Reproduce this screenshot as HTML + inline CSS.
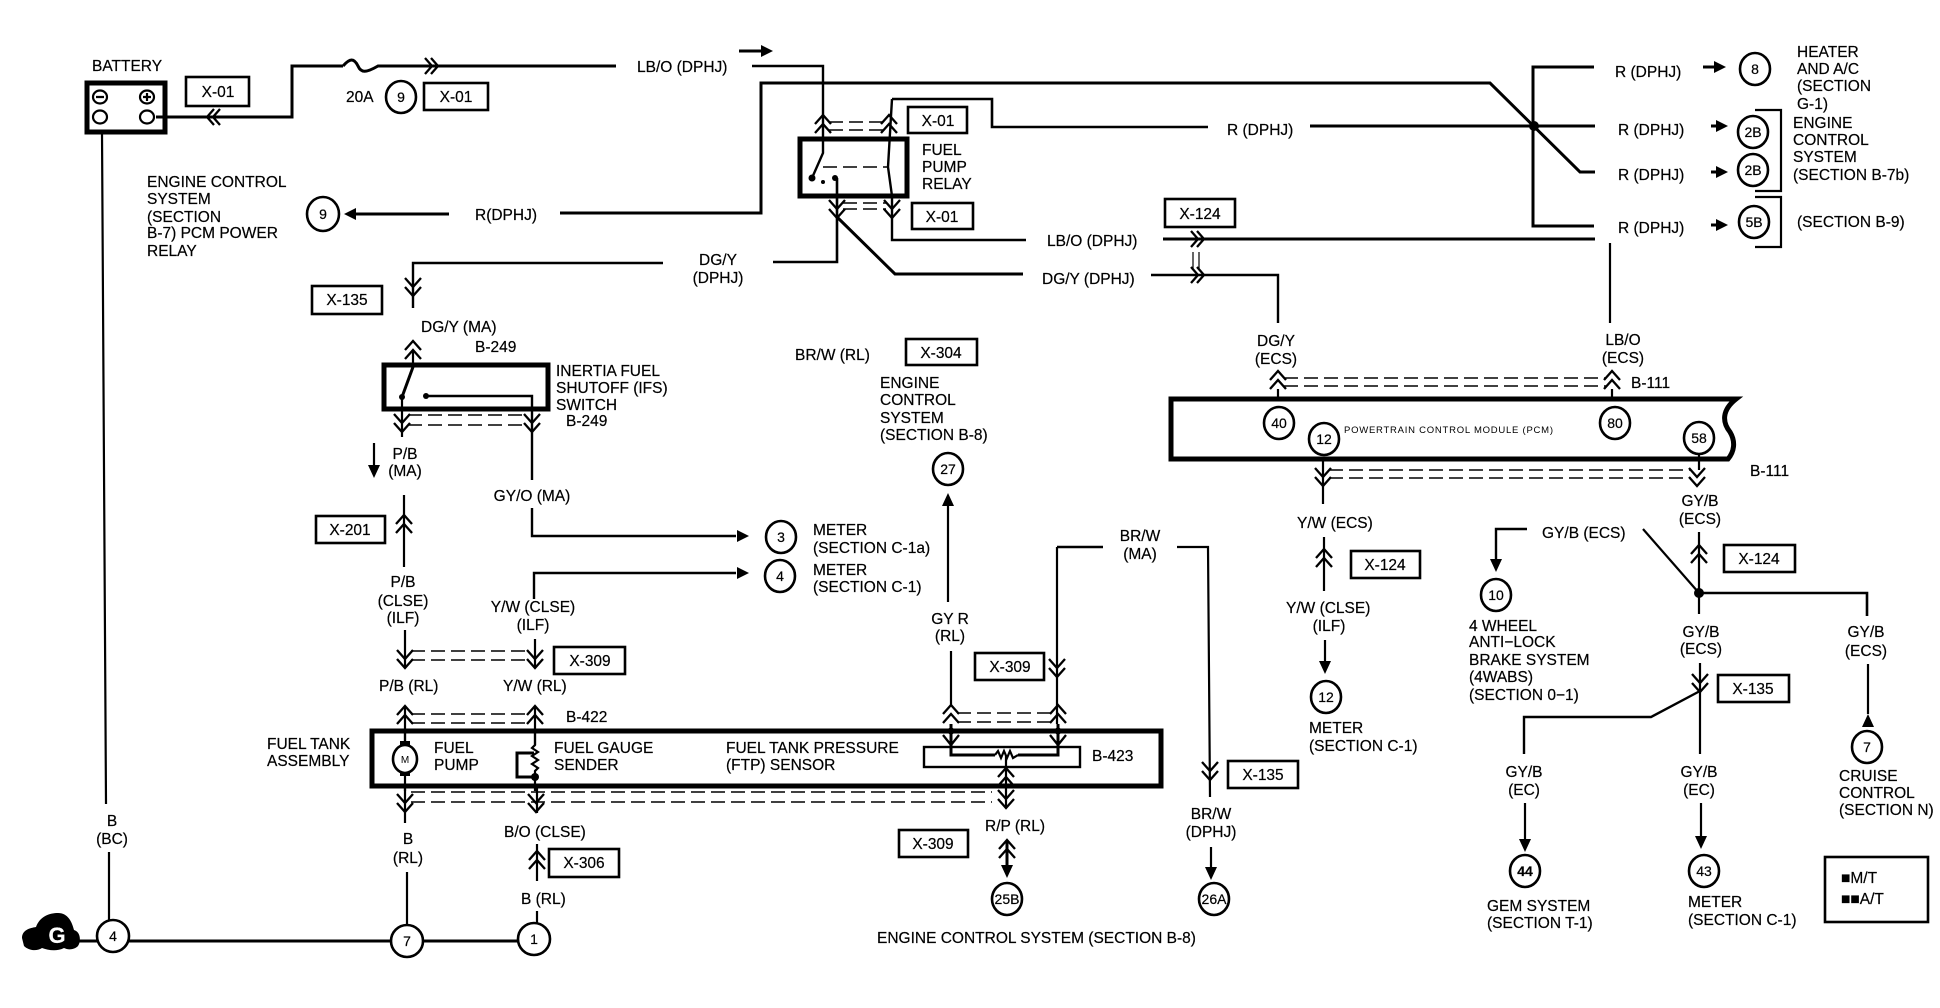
<!DOCTYPE html>
<html><head><meta charset="utf-8"><title>Fuel pump wiring diagram</title>
<style>
html,body{margin:0;padding:0;background:#fff}
svg{display:block}
text{font-family:"Liberation Sans",sans-serif;font-size:15.5px;fill:#000;stroke:#000;stroke-width:.2}
.m{text-anchor:middle}
.n{text-anchor:middle;font-size:14px}
.w{fill:none;stroke:#000;stroke-width:2.2}
.b{fill:none;stroke:#000;stroke-width:3}
.h{fill:none;stroke:#000;stroke-width:5}
.d{fill:none;stroke:#000;stroke-width:1.5;stroke-dasharray:14 6}
.c{fill:#fff;stroke:#000;stroke-width:2.6}
.x{fill:#fff;stroke:#000;stroke-width:2.6}
.f{fill:#000;stroke:none}
</style></head><body>
<svg xmlns="http://www.w3.org/2000/svg" width="1940" height="1008" viewBox="0 0 1940 1008">
<defs>
<path id="dd" d="M-8,0L0,9L8,0M-8,9L0,18L8,9" fill="none" stroke="#000" stroke-width="2.3"/>
<path id="du" d="M-8,18L0,9L8,18M-8,9L0,0L8,9" fill="none" stroke="#000" stroke-width="2.3"/>
<path id="dr" d="M0,-8L7,0L0,8M6,-8L13,0L6,8" fill="none" stroke="#000" stroke-width="2.3"/>
<path id="dl" d="M13,-8L6,0L13,8M7,-8L0,0L7,8" fill="none" stroke="#000" stroke-width="2.3"/>
<path id="sd" d="M-8,0L0,10L8,0" fill="none" stroke="#000" stroke-width="2.3"/>
<path id="ad" d="M-6,-13L6,-13L0,0Z" fill="#000"/>
<path id="ar" d="M-12,-6L-12,6L0,0Z" fill="#000"/>
</defs>

<!-- Battery -->
<text x="92" y="71">BATTERY</text>
<rect x="87" y="83" width="78" height="49" class="h"/>
<ellipse cx="100" cy="97" rx="7" ry="6.5" class="w"/><ellipse cx="147" cy="97" rx="7" ry="6.5" class="w"/>
<path d="M96,97H104M143,97H151M147,93V101" class="w" stroke-width="1"/>
<ellipse cx="100" cy="117" rx="7" ry="6.5" class="w"/><ellipse cx="147" cy="117" rx="7" ry="6.5" class="w"/>
<rect x="186" y="77" width="63" height="29" class="x"/><text x="218" y="97" class="m">X-01</text>
<path d="M156,117H292V66H343" class="b"/>
<path d="M343,66C350,58 354,58 358,66C361,73 366,73 378,66H616" class="b"/>
<use href="#dr" x="425" y="66"/><use href="#dl" x="207" y="117"/>
<text x="637" y="72">LB/O (DPHJ)</text>
<path d="M752,66H823V153L812,178" class="b" style="stroke-width:2.4"/>
<path d="M739,51H762" class="b"/><use href="#ar" x="773" y="51"/>
<text x="346" y="102">20A</text>
<ellipse cx="401" cy="97" rx="15" ry="16" class="c"/><text x="401" y="102" class="n">9</text>
<rect x="424" y="83" width="64" height="27" class="x"/><text x="456" y="102" class="m">X-01</text>

<!-- R wire top -->
<path d="M560,213H761V83H1490L1580,172H1595" class="b"/>
<text x="475" y="220">R(DPHJ)</text>
<path d="M449,214H356" class="b"/><use href="#ar" transform="translate(344,214) rotate(180)"/>
<ellipse cx="323" cy="214" rx="16" ry="17" class="c"/><text x="323" y="219" class="n">9</text>
<text x="147" y="187">ENGINE CONTROL</text><text x="147" y="204">SYSTEM</text><text x="147" y="222">(SECTION</text><text x="147" y="238">B-7) PCM POWER</text><text x="147" y="256">RELAY</text>

<!-- Fuel pump relay -->
<rect x="800" y="139" width="107" height="57" class="h"/>
<use href="#du" x="823" y="115"/><use href="#du" x="889" y="115"/>
<path d="M829,122H883M829,130H883" class="d"/>
<rect x="908" y="107" width="59" height="26" class="x"/><text x="938" y="126" class="m">X-01</text>
<text x="922" y="155">FUEL</text><text x="922" y="172">PUMP</text><text x="922" y="189">RELAY</text>
<path d="M823,167H888" class="d"/>
<path d="M892,99L888,167L892,196V240H1026" class="b" style="stroke-width:2.4"/>
<path d="M892,99H992V127H1208" class="w" style="stroke-width:2.6"/>
<circle cx="812" cy="178" r="3.5" class="f"/><circle cx="823" cy="182" r="2" class="f"/><circle cx="835" cy="178" r="3" class="f"/>
<use href="#dd" x="837" y="200"/><use href="#dd" x="892" y="200"/>
<path d="M843,203H886M843,209H886" class="d"/>
<rect x="912" y="203" width="61" height="26" class="x"/><text x="942" y="222" class="m">X-01</text>
<path d="M837,178V262H773" class="b" style="stroke-width:2.6"/>
<path d="M663,263H413V308" class="b" style="stroke-width:2.4"/>
<text x="718" y="265" class="m">DG/Y</text><text x="718" y="283" class="m">(DPHJ)</text>
<use href="#dd" x="413" y="278"/>
<rect x="312" y="286" width="70" height="28" class="x"/><text x="347" y="305" class="m">X-135</text>
<path d="M837,217L895,274H1023" class="b"/>
<path d="M1310,126H1595" class="b"/>
<text x="1227" y="135">R (DPHJ)</text>
<circle cx="1534" cy="126" r="5" class="f"/>
<path d="M1594,67H1533V226H1594" class="b"/>

<!-- Top right labels -->
<text x="1615" y="77">R (DPHJ)</text>
<path d="M1703,67H1716" class="b"/><use href="#ar" x="1726" y="67"/>
<ellipse cx="1755" cy="69" rx="15" ry="16" class="c"/><text x="1755" y="74" class="n">8</text>
<text x="1797" y="57">HEATER</text><text x="1797" y="74">AND A/C</text><text x="1797" y="91">(SECTION</text><text x="1797" y="109">G-1)</text>
<text x="1618" y="135">R (DPHJ)</text>
<path d="M1711,126H1718" class="b"/><use href="#ar" x="1728" y="126"/>
<ellipse cx="1753" cy="132" rx="15" ry="16" class="c"/><text x="1753" y="137" class="n">2B</text>
<text x="1618" y="180">R (DPHJ)</text>
<path d="M1711,172H1718" class="b"/><use href="#ar" x="1728" y="172"/>
<ellipse cx="1753" cy="170" rx="15" ry="16" class="c"/><text x="1753" y="175" class="n">2B</text>
<text x="1618" y="233">R (DPHJ)</text>
<path d="M1711,225H1718" class="b"/><use href="#ar" x="1728" y="225"/>
<ellipse cx="1754" cy="222" rx="15" ry="16" class="c"/><text x="1754" y="227" class="n">5B</text>
<path d="M1755,110H1781V191H1755M1755,197H1781V247H1755" class="w" style="stroke-width:2.2"/>
<text x="1793" y="128">ENGINE</text><text x="1793" y="145">CONTROL</text><text x="1793" y="162">SYSTEM</text><text x="1793" y="180">(SECTION B-7b)</text>
<text x="1797" y="227">(SECTION B-9)</text>

<!-- LB/O, DG/Y to PCM -->
<text x="1047" y="246">LB/O (DPHJ)</text>
<path d="M1163,239H1595" class="b"/>
<use href="#dr" x="1191" y="239"/>
<rect x="1165" y="199" width="70" height="28" class="x"/><text x="1200" y="219" class="m">X-124</text>
<path d="M1193,252V270M1199,252V270" class="w" style="stroke-width:1.2"/>
<text x="1042" y="284">DG/Y (DPHJ)</text>
<path d="M1151,275H1278V323" class="b" style="stroke-width:2.4"/>
<use href="#dr" x="1191" y="275"/>
<path d="M1610,243V323" class="w"/>

<!-- PCM -->
<text x="1276" y="346" class="m">DG/Y</text><text x="1276" y="364" class="m">(ECS)</text>
<text x="1623" y="345" class="m">LB/O</text><text x="1623" y="363" class="m">(ECS)</text>
<use href="#du" x="1278" y="371"/><use href="#du" x="1612" y="371"/>
<path d="M1284,378H1606M1284,386H1606" class="d"/>
<path d="M1278,389V400M1612,389V400" class="w"/>
<text x="1631" y="388">B-111</text>
<path d="M1171,399H1736C1722,410 1722,422 1730,432C1736,442 1734,452 1728,459H1171Z" class="h" style="fill:#fff"/>
<ellipse cx="1279" cy="423" rx="15" ry="16" class="c"/><text x="1279" y="428" class="n">40</text>
<ellipse cx="1324" cy="439" rx="15" ry="16" class="c"/><text x="1324" y="444" class="n">12</text>
<ellipse cx="1615" cy="423" rx="15" ry="16" class="c"/><text x="1615" y="428" class="n">80</text>
<ellipse cx="1699" cy="438" rx="15" ry="16" class="c"/><text x="1699" y="443" class="n">58</text>
<text x="1344" y="433" style="font-size:9.5px;stroke-width:0" textLength="209">POWERTRAIN CONTROL MODULE (PCM)</text>
<use href="#dd" x="1323" y="468"/><use href="#dd" x="1697" y="468"/>
<path d="M1329,470H1691M1329,478H1691" class="d"/>
<path d="M1323,461V504M1699,455V470" class="w"/>
<text x="1750" y="476">B-111</text>
<text x="1700" y="506" class="m">GY/B</text><text x="1700" y="524" class="m">(ECS)</text>
<text x="1297" y="528">Y/W (ECS)</text>
<path d="M1324,537V591" class="w"/><use href="#du" x="1324" y="549"/>
<rect x="1351" y="551" width="69" height="27" class="x"/><text x="1385" y="570" class="m">X-124</text>
<text x="1286" y="613">Y/W (CLSE)</text><text x="1329" y="631" class="m">(ILF)</text>
<path d="M1325,640V662" class="w"/><use href="#ad" x="1325" y="674"/>
<ellipse cx="1326" cy="697" rx="15" ry="16" class="c"/><text x="1326" y="702" class="n">12</text>
<text x="1309" y="733">METER</text><text x="1309" y="751">(SECTION C-1)</text>

<!-- GY/B network -->
<text x="1542" y="538">GY/B (ECS)</text>
<path d="M1527,529H1496V560" class="b" style="stroke-width:2.4"/><use href="#ad" x="1496" y="572"/>
<ellipse cx="1496" cy="595" rx="15" ry="16" class="c"/><text x="1496" y="600" class="n">10</text>
<text x="1469" y="631">4 WHEEL</text><text x="1469" y="647">ANTI−LOCK</text><text x="1469" y="665">BRAKE SYSTEM</text><text x="1469" y="682">(4WABS)</text><text x="1469" y="700">(SECTION 0−1)</text>
<path d="M1643,529L1699,593" class="b" style="stroke-width:2.2"/>
<path d="M1699,532V614" class="w"/><use href="#du" x="1699" y="545"/>
<rect x="1724" y="545" width="71" height="27" class="x"/><text x="1759" y="564" class="m">X-124</text>
<circle cx="1699" cy="593" r="5" class="f"/>
<path d="M1699,593H1867V616" class="b" style="stroke-width:2.6"/>
<text x="1866" y="637" class="m">GY/B</text><text x="1866" y="656" class="m">(ECS)</text>
<path d="M1868,664V714" class="w"/><path d="M1862,727L1874,727L1868,714Z" class="f"/>
<ellipse cx="1867" cy="747" rx="15" ry="16" class="c"/><text x="1867" y="752" class="n">7</text>
<text x="1839" y="781">CRUISE</text><text x="1839" y="798">CONTROL</text><text x="1839" y="815">(SECTION N)</text>
<text x="1701" y="637" class="m">GY/B</text><text x="1701" y="654" class="m">(ECS)</text>
<path d="M1700,663V754" class="w"/><use href="#dd" x="1700" y="674"/>
<rect x="1718" y="675" width="71" height="27" class="x"/><text x="1753" y="694" class="m">X-135</text>
<path d="M1700,691L1651,717H1524V754" class="b" style="stroke-width:2.4"/>
<text x="1524" y="777" class="m">GY/B</text><text x="1524" y="795" class="m">(EC)</text>
<path d="M1525,803V840" class="w"/><use href="#ad" x="1525" y="852"/>
<ellipse cx="1525" cy="871" rx="15" ry="16" class="c"/><text x="1525" y="876" class="n" style="font-weight:bold">44</text>
<text x="1487" y="911">GEM SYSTEM</text><text x="1487" y="928">(SECTION T-1)</text>
<text x="1699" y="777" class="m">GY/B</text><text x="1699" y="795" class="m">(EC)</text>
<path d="M1701,803V837" class="w"/><use href="#ad" x="1701" y="849"/>
<ellipse cx="1704" cy="871" rx="15" ry="16" class="c"/><text x="1704" y="876" class="n">43</text>
<text x="1688" y="907">METER</text><text x="1688" y="925">(SECTION C-1)</text>
<rect x="1825" y="857" width="103" height="65" class="x"/>
<text x="1841" y="883">■M/T</text><text x="1841" y="904">■■A/T</text>

<!-- Inertia switch -->
<text x="421" y="332">DG/Y (MA)</text><text x="475" y="352">B-249</text>
<use href="#du" x="413" y="341"/><path d="M413,350V367" class="w"/>
<rect x="384" y="365" width="164" height="44" class="h"/>
<text x="556" y="376">INERTIA FUEL</text><text x="556" y="393">SHUTOFF (IFS)</text><text x="556" y="410">SWITCH</text><text x="566" y="426">B-249</text>
<path d="M413,367L402,397" class="b"/><circle cx="402" cy="397" r="3" class="f"/>
<path d="M427,396H532V480" class="b" style="stroke-width:2.4"/><circle cx="426" cy="396" r="3" class="f"/>
<path d="M402,397V437" class="w"/>
<use href="#dd" x="402" y="414"/><use href="#dd" x="532" y="414"/>
<path d="M408,415H526M408,425H526" class="d"/>
<path d="M374,443V466" class="w"/><use href="#ad" x="374" y="478"/>
<text x="405" y="459" class="m">P/B</text><text x="405" y="476" class="m">(MA)</text>
<text x="532" y="501" class="m">GY/O (MA)</text>
<path d="M532,508V536H736" class="w" style="stroke-width:2.4"/><use href="#ar" x="749" y="536"/>
<ellipse cx="781" cy="537" rx="15" ry="16" class="c"/><text x="781" y="542" class="n">3</text>
<text x="813" y="535">METER</text><text x="813" y="553">(SECTION C-1a)</text>
<ellipse cx="780" cy="576" rx="15" ry="16" class="c"/><text x="780" y="581" class="n">4</text>
<text x="813" y="575">METER</text><text x="813" y="592">(SECTION C-1)</text>
<path d="M534,599V573H736" class="b" style="stroke-width:2.4"/><use href="#ar" x="749" y="573"/>
<path d="M404,495V567" class="w"/><use href="#du" x="404" y="515"/>
<rect x="316" y="516" width="69" height="27" class="x"/><text x="350" y="535" class="m">X-201</text>
<text x="403" y="587" class="m">P/B</text><text x="403" y="606" class="m">(CLSE)</text><text x="403" y="623" class="m">(ILF)</text>
<text x="533" y="612" class="m">Y/W (CLSE)</text><text x="533" y="630" class="m">(ILF)</text>
<path d="M405,630V667M535,639V667" class="w"/>
<use href="#dd" x="405" y="650"/><use href="#dd" x="535" y="650"/>
<path d="M411,651H529M411,660H529" class="d"/>
<rect x="554" y="647" width="71" height="27" class="x"/><text x="590" y="666" class="m">X-309</text>
<text x="379" y="691">P/B (RL)</text><text x="503" y="691">Y/W (RL)</text>

<!-- Fuel tank -->
<path d="M405,707V745M535,707V745" class="w"/>
<use href="#du" x="405" y="706"/><use href="#du" x="535" y="706"/>
<path d="M411,714H529M411,723H529" class="d"/>
<text x="566" y="722">B-422</text>
<rect x="372" y="731" width="789" height="55" class="h"/>
<text x="267" y="749">FUEL TANK</text><text x="267" y="766">ASSEMBLY</text>
<path d="M405,733V791" class="w"/>
<ellipse cx="405" cy="759" rx="12" ry="14" class="c"/><text x="405" y="763" class="n" style="font-size:10px;stroke-width:0">M</text>
<rect x="400" y="741" width="10" height="4" class="f"/><rect x="400" y="772" width="10" height="4" class="f"/>
<text x="434" y="753">FUEL</text><text x="434" y="770">PUMP</text>
<path d="M535,733V745L532,748L538,752L532,756L538,760L532,764L538,768L535,771V791" class="w"/>
<path d="M534,753H517V777H535" class="b"/><circle cx="535" cy="777" r="4" class="f"/>
<text x="554" y="753">FUEL GAUGE</text><text x="554" y="770">SENDER</text>
<text x="726" y="753">FUEL TANK PRESSURE</text><text x="726" y="770">(FTP) SENSOR</text>
<rect x="924" y="747" width="156" height="20" class="w" style="stroke-width:2.4"/>
<path d="M951,724V755H995M1018,755H1058V724" class="b"/>
<path d="M995,755L998,751L1001,758L1004,751L1007,758L1010,751L1013,758L1018,755" class="w"/>
<path d="M951,651V705M1057,547V724" class="w"/>
<use href="#du" x="951" y="705"/><use href="#du" x="1058" y="705"/>
<use href="#sd" x="951" y="735"/><use href="#sd" x="1058" y="735"/>
<circle cx="951" cy="731" r="3.5" class="f"/><circle cx="1058" cy="731" r="3.5" class="f"/>
<path d="M957,713H1052M957,722H1052" class="d"/>
<text x="1092" y="761">B-423</text>
<path d="M405,786V823M537,786V813M1006,755V807" class="w"/>
<use href="#dd" x="405" y="794"/><use href="#dd" x="536" y="794"/>
<use href="#du" x="1006" y="768"/><use href="#dd" x="1006" y="790"/>
<path d="M411,792H992M411,802H992" class="d"/>
<text x="408" y="844" class="m">B</text><text x="408" y="863" class="m">(RL)</text>
<path d="M407,872V925" class="w"/>
<text x="504" y="837">B/O (CLSE)</text>
<path d="M537,844V881" class="w"/><use href="#du" x="537" y="851"/>
<rect x="549" y="849" width="70" height="28" class="x"/><text x="584" y="868" class="m">X-306</text>
<text x="521" y="904">B (RL)</text>
<path d="M537,911V923" class="w"/>

<!-- Ground -->
<path d="M22,938C22,930 30,928 36,927C40,916 50,913 58,913C68,913 72,922 74,930C81,932 81,942 78,946C74,950 68,950 64,948C56,952 48,950 42,948C36,952 28,950 24,946Z" class="f"/>
<text x="57" y="943" class="m" style="fill:#fff;stroke:#fff;font-weight:bold;font-size:22px">G</text>
<path d="M79,941H99M128,941H392M422,941H519" class="b"/>
<path d="M102,133L106,804M109,852V921" class="w"/>
<text x="112" y="826" class="m">B</text><text x="112" y="844" class="m">(BC)</text>
<ellipse cx="113" cy="936" rx="16" ry="16" class="c"/><text x="113" y="941" class="n">4</text>
<ellipse cx="407" cy="941" rx="16" ry="16" class="c"/><text x="407" y="946" class="n">7</text>
<ellipse cx="534" cy="939" rx="16" ry="16" class="c"/><text x="534" y="944" class="n">1</text>

<!-- BR/W, FTP -->
<text x="795" y="360">BR/W (RL)</text>
<rect x="906" y="339" width="71" height="26" class="x"/><text x="941" y="358" class="m">X-304</text>
<text x="880" y="388">ENGINE</text><text x="880" y="405">CONTROL</text><text x="880" y="423">SYSTEM</text><text x="880" y="440">(SECTION B-8)</text>
<ellipse cx="948" cy="469" rx="15" ry="16" class="c"/><text x="948" y="474" class="n">27</text>
<path d="M948,506V602" class="w"/><path d="M942,506L954,506L948,493Z" class="f"/>
<text x="950" y="624" class="m">GY R</text><text x="950" y="641" class="m">(RL)</text>
<path d="M1103,547H1057" class="w" style="stroke-width:2.4"/>
<text x="1140" y="541" class="m">BR/W</text><text x="1140" y="559" class="m">(MA)</text>
<path d="M1177,547H1208L1210,797" class="w"/>
<use href="#dd" x="1057" y="659"/>
<rect x="975" y="653" width="69" height="27" class="x"/><text x="1010" y="672" class="m">X-309</text>
<use href="#dd" x="1210" y="762"/>
<rect x="1228" y="761" width="70" height="27" class="x"/><text x="1263" y="780" class="m">X-135</text>
<text x="1211" y="819" class="m">BR/W</text><text x="1211" y="837" class="m">(DPHJ)</text>
<path d="M1211,847V868" class="w"/><use href="#ad" x="1211" y="880"/>
<ellipse cx="1214" cy="899" rx="15" ry="16" class="c"/><text x="1214" y="904" class="n">26A</text>
<text x="985" y="831">R/P (RL)</text>
<path d="M1007,841V867" class="b"/><use href="#du" x="1007" y="840"/><use href="#ad" x="1007" y="878"/>
<ellipse cx="1007" cy="899" rx="15" ry="16" class="c"/><text x="1007" y="904" class="n">25B</text>
<rect x="899" y="830" width="69" height="27" class="x"/><text x="933" y="849" class="m">X-309</text>
<text x="877" y="943">ENGINE CONTROL SYSTEM (SECTION B-8)</text>
</svg>
</body></html>
